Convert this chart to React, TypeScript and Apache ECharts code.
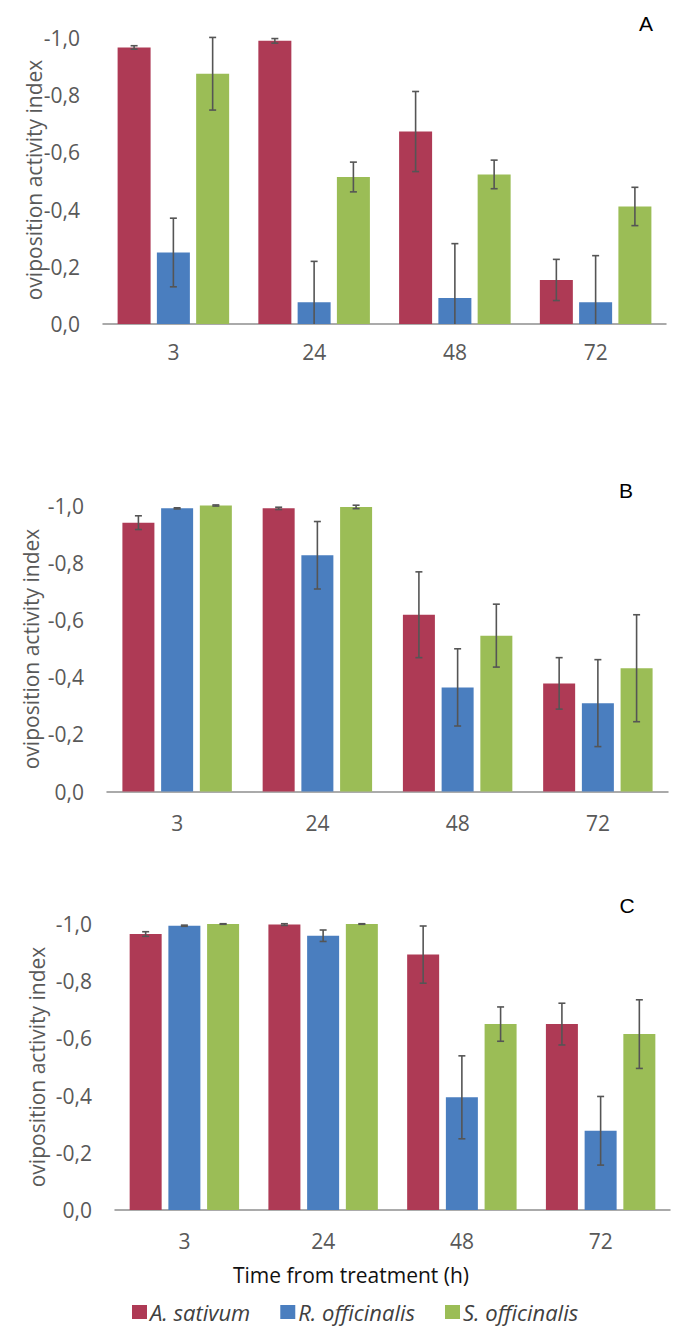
import React, { useEffect, useRef } from "react";
import * as echarts from "echarts";

const categories = ["3", "24", "48", "72"];
const seriesNames = ["A. sativum", "R. officinalis", "S. officinalis"];
const yTicks = [0, 0.2, 0.4, 0.6, 0.8, 1.0];

// Panel A
const aSativumA = [0.967, 0.99, 0.673, 0.154];
const aSativumErrA = [0.006, 0.008, 0.14, 0.072];
const rOfficinalisA = [0.25, 0.076, 0.091, 0.076];
const rOfficinalisErrA = [0.12, 0.143, 0.19, 0.163];
const sOfficinalisA = [0.875, 0.514, 0.523, 0.411];
const sOfficinalisErrA = [0.127, 0.052, 0.05, 0.067];

// Panel B
const aSativumB = [0.94, 0.99, 0.618, 0.378];
const aSativumErrB = [0.024, 0.004, 0.15, 0.09];
const rOfficinalisB = [0.99, 0.826, 0.364, 0.309];
const rOfficinalisErrB = [0.002, 0.118, 0.135, 0.152];
const sOfficinalisB = [1.0, 0.995, 0.545, 0.431];
const sOfficinalisErrB = [0.002, 0.006, 0.11, 0.187];

// Panel C
const aSativumC = [0.965, 0.998, 0.893, 0.65];
const aSativumErrC = [0.008, 0.003, 0.1, 0.073];
const rOfficinalisC = [0.994, 0.959, 0.394, 0.277];
const rOfficinalisErrC = [0.002, 0.02, 0.145, 0.12];
const sOfficinalisC = [1.0, 1.0, 0.65, 0.615];
const sOfficinalisErrC = [0.001, 0.001, 0.06, 0.12];

const panelLetters = ["A", "B", "C"];

const FONT = "'Open Sans', 'Noto Sans', sans-serif";
const GRAY = "#595959";
const RED = "#AE3A55";
const BLUE = "#4A7EBF";
const GREEN = "#9BBD56";

export default function App() {
  const ref = useRef<HTMLDivElement>(null);

  useEffect(() => {
    document.body.style.margin = "0";
    if (!ref.current) return;
    const chart = echarts.init(ref.current, undefined, { renderer: "svg" });

    const panels = [
      {
        vals: [aSativumA, rOfficinalisA, sOfficinalisA],
        errs: [aSativumErrA, rOfficinalisErrA, sOfficinalisErrA],
        grid: { left: 103, width: 563, top: 38, height: 286 },
        barWidth: 33,
        barGap: 0.19,
        labelMargin: 17,
        letter: { x: 646, y: 23 },
        yTitle: { x: 34, y: 180 },
      },
      {
        vals: [aSativumB, rOfficinalisB, sOfficinalisB],
        errs: [aSativumErrB, rOfficinalisErrB, sOfficinalisErrB],
        grid: { left: 107, width: 561, top: 505.5, height: 286 },
        barWidth: 32,
        barGap: 0.21,
        labelMargin: 21,
        letter: { x: 626, y: 490 },
        yTitle: { x: 31, y: 649 },
      },
      {
        vals: [aSativumC, rOfficinalisC, sOfficinalisC],
        errs: [aSativumErrC, rOfficinalisErrC, sOfficinalisErrC],
        grid: { left: 115, width: 555, top: 924, height: 286 },
        barWidth: 32,
        barGap: 0.21,
        labelMargin: 20,
        letter: { x: 627, y: 905 },
        yTitle: { x: 37, y: 1067 },
      },
    ];

    const colors = [RED, BLUE, GREEN];

    const grids: any[] = [];
    const xAxes: any[] = [];
    const yAxes: any[] = [];
    const series: any[] = [];
    const graphics: any[] = [];

    panels.forEach((p, pi) => {
      grids.push({ ...p.grid, containLabel: false });
      xAxes.push({
        type: "category",
        gridIndex: pi,
        data: categories,
        axisLine: { show: true, lineStyle: { color: "#8f8f8f", width: 1.5 } },
        axisTick: { show: false },
        axisLabel: { color: GRAY, fontSize: 21, fontFamily: FONT, margin: p.labelMargin },
      });
      yAxes.push({
        type: "value",
        gridIndex: pi,
        min: 0,
        max: 1,
        interval: 0.2,
        axisLine: { show: false },
        axisTick: { show: false },
        splitLine: { show: false },
        axisLabel: {
          color: GRAY,
          fontSize: 21,
          fontFamily: FONT,
          margin: 23,
          formatter: (v: number) =>
            Math.abs(v) < 1e-9 ? "0,0" : "-" + v.toFixed(1).replace(".", ","),
        },
      });
      p.vals.forEach((vals, si) => {
        series.push({
          type: "bar",
          name: seriesNames[si],
          xAxisIndex: pi,
          yAxisIndex: pi,
          data: vals,
          barWidth: p.barWidth,
          barGap: Math.round(p.barGap * 100) + "%",
          itemStyle: { color: colors[si] },
          silent: true,
        });
      });
      const step = p.barWidth * (1 + p.barGap);
      p.vals.forEach((vals, si) => {
        const offset = (si - 1) * step;
        const errs = p.errs[si];
        series.push({
          type: "custom",
          name: "err-" + pi + "-" + si,
          xAxisIndex: pi,
          yAxisIndex: pi,
          z: 10,
          silent: true,
          data: vals.map((v, i) => [i, Math.max(0, v - errs[i]), Math.min(1.05, v + errs[i]), v - errs[i] >= 0 ? 1 : 0]),
          encode: { x: 0, y: [1, 2] },
          renderItem: (params: any, api: any) => {
            const idx = api.value(0);
            const lo = api.coord([idx, api.value(1)]);
            const hi = api.coord([idx, api.value(2)]);
            const showLoCap = api.value(3) === 1;
            const x = lo[0] + offset;
            const style = { stroke: "#555555", lineWidth: 1.6 };
            const children: any[] = [
              { type: "line", shape: { x1: x, y1: lo[1], x2: x, y2: hi[1] }, style },
              { type: "line", shape: { x1: x - 3.5, y1: hi[1], x2: x + 3.5, y2: hi[1] }, style },
            ];
            if (showLoCap) {
              children.push({ type: "line", shape: { x1: x - 3.5, y1: lo[1], x2: x + 3.5, y2: lo[1] }, style });
            }
            return { type: "group", children };
          },
        });
      });
      graphics.push({
        type: "text",
        x: p.letter.x,
        y: p.letter.y,
        style: {
          text: panelLetters[pi],
          font: "21px 'Liberation Sans', Arial, sans-serif",
          fill: "#000",
          align: "center",
          verticalAlign: "middle",
        },
      });
      graphics.push({
        type: "text",
        x: p.yTitle.x,
        y: p.yTitle.y,
        rotation: Math.PI / 2,
        style: {
          text: "oviposition activity index",
          font: "21px " + FONT,
          fill: GRAY,
          align: "center",
          verticalAlign: "middle",
        },
      });
    });

    graphics.push({
      type: "text",
      x: 351,
      y: 1275,
      style: {
        text: "Time from treatment (h)",
        font: "21px " + FONT,
        fill: "#111",
        align: "center",
        verticalAlign: "middle",
      },
    });

    chart.setOption({
      animation: false,
      backgroundColor: "#ffffff",
      grid: grids,
      xAxis: xAxes,
      yAxis: yAxes,
      series,
      graphic: graphics,
      legend: {
        data: seriesNames,
        left: 127,
        top: 1296,
        itemWidth: 15,
        itemHeight: 14,
        itemGap: 30,
        icon: "rect",
        selectedMode: false,
        textStyle: {
          fontFamily: FONT,
          fontSize: 22,
          fontStyle: "italic",
          color: "#404040",
          padding: [0, 0, 0, -2],
        },
      },
    });

    return () => {
      chart.dispose();
    };
  }, []);

  return <div ref={ref} style={{ width: 689, height: 1330 }} />;
}
